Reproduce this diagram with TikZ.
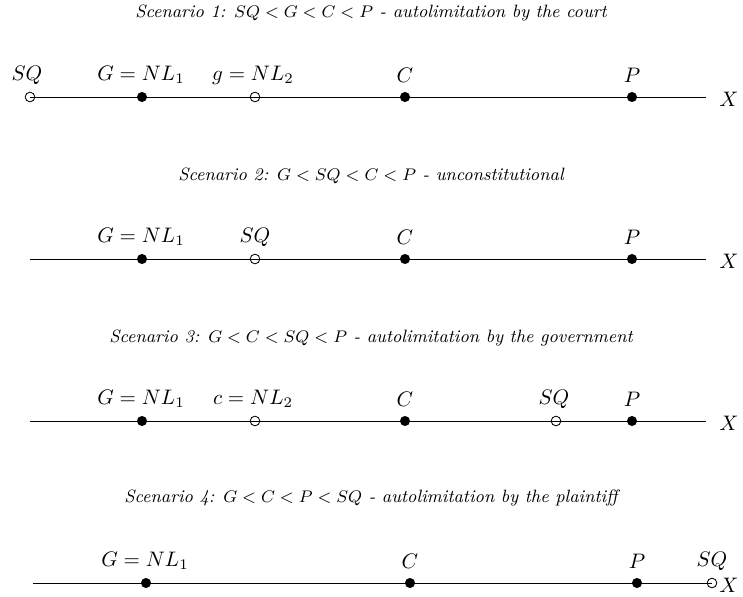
\documentclass[tikz,border=0pt]{standalone}
\begin{document}
\begin{tikzpicture}[x=0.476pt,y=-0.476pt,
  axis/.style={line width=0.4pt},
  full/.style={circle,fill=black,inner sep=0pt,minimum size=4.8pt},
  hollow/.style={circle,draw=black,line width=0.4pt,inner sep=0pt,minimum size=4.6pt},
  lab/.style={font=\normalsize},
  ttl/.style={font=\fontsize{8.5}{10}\selectfont\itshape},
  xlab/.style={anchor=west,inner sep=0pt}]
\useasboundingbox (0,0) rectangle (743,597);
% Scenario 1
\node[ttl] (t1) at (371,13) {Scenario 1: $SQ<G<C<P$ - autolimitation by the court};
\coordinate (a1) at (30,97);
\coordinate (b1) at (706,97);
\draw[axis] (a1) -- (b1);
\node[hollow] (sq1) at (30,97) {};
\node[full] (g1) at (142,97) {};
\node[hollow] (gg1) at (255,97) {};
\node[full] (c1) at (405,97) {};
\node[full] (p1) at (632,97) {};
\node[xlab] (x1) at (719,99) {$X$};
\node[lab] at (27,75) {$SQ$};
\node[lab] at (141,75) {$G=NL_1$};
\node[lab] at (253,75) {$g=NL_2$};
\node[lab] at (405,75) {$C$};
\node[lab] at (632,75) {$P$};
% Scenario 2
\node[ttl] (t2) at (371,176) {Scenario 2: $G<SQ<C<P$ - unconstitutional};
\coordinate (a2) at (30,259);
\coordinate (b2) at (706,259);
\draw[axis] (a2) -- (b2);
\node[full] (g2) at (142,259) {};
\node[hollow] (sq2) at (255,259) {};
\node[full] (c2) at (405,259) {};
\node[full] (p2) at (632,259) {};
\node[xlab] (x2) at (719,261) {$X$};
\node[lab] at (141,237) {$G=NL_1$};
\node[lab] at (255,237) {$SQ$};
\node[lab] at (405,237) {$C$};
\node[lab] at (632,237) {$P$};
% Scenario 3
\node[ttl] (t3) at (371,338) {Scenario 3: $G<C<SQ<P$ - autolimitation by the government};
\coordinate (a3) at (30,421);
\coordinate (b3) at (706,421);
\draw[axis] (a3) -- (b3);
\node[full] (g3) at (142,421) {};
\node[hollow] (cc3) at (255,421) {};
\node[full] (c3) at (405,421) {};
\node[hollow] (sq3) at (556,421) {};
\node[full] (p3) at (632,421) {};
\node[xlab] (x3) at (719,423) {$X$};
\node[lab] at (141,399) {$G=NL_1$};
\node[lab] at (253,399) {$c=NL_2$};
\node[lab] at (405,399) {$C$};
\node[lab] at (554,399) {$SQ$};
\node[lab] at (632,399) {$P$};
% Scenario 4
\node[ttl] (t4) at (371,498) {Scenario 4: $G<C<P<SQ$ - autolimitation by the plaintiff};
\coordinate (a4) at (33,583);
\node[hollow] (sq4) at (712,583) {};
\draw[axis] (a4) -- (sq4.center);
\node[full] (g4) at (146,583) {};
\node[full] (c4) at (410,583) {};
\node[full] (p4) at (637,583) {};
\node[xlab] (x4) at (719,585) {$X$};
\node[lab] at (145,561) {$G=NL_1$};
\node[lab] at (410,561) {$C$};
\node[lab] at (637,561) {$P$};
\node[lab] at (712,561) {$SQ$};
\end{tikzpicture}
\end{document}
